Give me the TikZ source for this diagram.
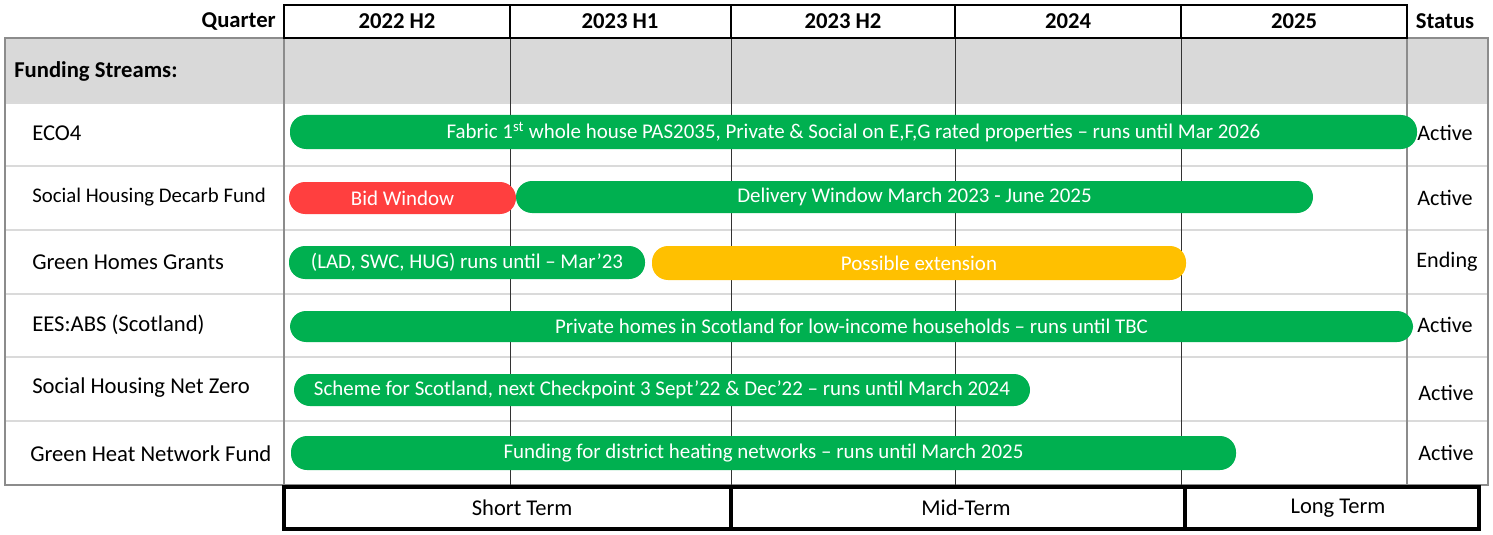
\documentclass[tikz,border=0pt]{standalone}
\usepackage{fontspec}
\setmainfont{Carlito}
\usepackage{tikz}
\usetikzlibrary{positioning}

\definecolor{barGreen}{HTML}{00B050}
\definecolor{barRed}{HTML}{FF3F3F}
\definecolor{barAmber}{HTML}{FFC000}
\definecolor{bandGray}{HTML}{D9D9D9}
\definecolor{ruleGray}{HTML}{DADADA}
\definecolor{frameGray}{HTML}{8C8C8C}

\begin{document}
\begin{tikzpicture}[x=0.75pt,y=-0.75pt,
  hdr/.style={font=\bfseries\fontsize{17}{20}\selectfont,text=black,inner sep=0pt},
  rowlbl/.style={anchor=west,font=\fontsize{17}{20}\selectfont,text=black,inner sep=0pt},
  status/.style={font=\fontsize{16.6}{20}\selectfont,text=black,inner sep=0pt},
  bar/.style={rectangle,rounded corners=12pt,text=white,inner sep=0pt,font=\fontsize{15.7}{18}\selectfont},
  termbox/.style={rectangle,draw=black,line width=2.4pt,minimum height=42*0.75pt,inner sep=0pt,font=\fontsize{16.9}{20}\selectfont}]
\useasboundingbox (0,0) rectangle (1493,535);
% table body
\fill[bandGray] (5,38) rectangle (1488,103);
\draw[ruleGray,line width=1.5pt] (5,103) -- (1488,103);
\draw[ruleGray,line width=1.5pt] (5,166) -- (1488,166);
\draw[ruleGray,line width=1.5pt] (5,230) -- (1488,230);
\draw[ruleGray,line width=1.5pt] (5,294) -- (1488,294);
\draw[ruleGray,line width=1.5pt] (5,357) -- (1488,357);
\draw[ruleGray,line width=1.5pt] (5,421) -- (1488,421);
\draw[frameGray,line width=1.2pt] (5,38) -- (1488,38) -- (1488,485) -- (5,485) -- cycle;
\draw[frameGray,line width=1.2pt] (284,38) -- (284,485);
\draw[frameGray,line width=1.2pt] (1407,38) -- (1407,485);
\draw[black!80,line width=0.7pt] (510,38) -- (510,487);
\draw[black!80,line width=0.7pt] (731,38) -- (731,487);
\draw[black!80,line width=0.7pt] (955,38) -- (955,487);
\draw[black!80,line width=0.7pt] (1181,38) -- (1181,487);
% header
\draw[black,line width=1.5pt] (284,5) rectangle (1407,38);
\draw[black,line width=1.5pt] (510,5) -- (510,38);
\draw[black,line width=1.5pt] (731,5) -- (731,38);
\draw[black,line width=1.5pt] (955,5) -- (955,38);
\draw[black,line width=1.5pt] (1181,5) -- (1181,38);
\node[hdr,anchor=east] (quarter) at (276,21) {Quarter};
\node[hdr] (h22b) at (397,21) {2022 H2};
\node[hdr] (h23a) at (620,21) {2023 H1};
\node[hdr] (h23b) at (843,21) {2023 H2};
\node[hdr] (y24) at (1068,21) {2024};
\node[hdr] (y25) at (1294,21) {2025};
\node[hdr] (statushdr) at (1445,21) {Status};
\node[hdr,anchor=west] (streams) at (14,71) {Funding Streams:};
% rows
\node[rowlbl] (eco) at (32,133) {ECO4};
\node[rowlbl,font=\fontsize{15.6}{18}\selectfont] (shdf) at (32,197) {Social Housing Decarb Fund};
\node[rowlbl] (ghg) at (32,262) {Green Homes Grants};
\node[rowlbl] (ees) at (32,325) {EES:ABS (Scotland)};
\node[rowlbl] (shnz) at (32,388) {Social Housing Net Zero};
\node[rowlbl] (ghnf) at (30,454) {Green Heat Network Fund};
% bars
\node[bar,fill=barGreen,minimum width=1127*0.75pt,minimum height=34*0.75pt] (ecobar) at (853.5,132) {Fabric 1\textsuperscript{st} whole house PAS2035, Private \& Social on E,F,G rated properties -- runs until Mar 2026};
\node[bar,fill=barRed,minimum width=227*0.75pt,minimum height=32*0.75pt] (bidbar) at (402.5,198) {Bid Window};
\node[bar,fill=barGreen,minimum width=797*0.75pt,minimum height=32*0.75pt] (delbar) at (914.5,197) {Delivery Window March 2023 - June 2025};
\node[bar,fill=barGreen,minimum width=356*0.75pt,minimum height=33*0.75pt] (ladbar) at (467,262.5) {(LAD, SWC, HUG) runs until -- Mar’23};
\node[bar,fill=barAmber,minimum width=534*0.75pt,minimum height=34*0.75pt] (extbar) at (919,263) {Possible extension};
\node[bar,fill=barGreen,minimum width=1123*0.75pt,minimum height=31*0.75pt] (eesbar) at (851.5,326.5) {Private homes in Scotland for low-income households -- runs until TBC};
\node[bar,fill=barGreen,minimum width=736*0.75pt,minimum height=32*0.75pt] (shnzbar) at (662,390) {Scheme for Scotland, next Checkpoint 3 Sept’22 \& Dec’22 -- runs until March 2024};
\node[bar,fill=barGreen,minimum width=945*0.75pt,minimum height=34*0.75pt] (ghnfbar) at (763.5,453) {Funding for district heating networks -- runs until March 2025};
% status
\node[status] (st1) at (1445,133) {Active};
\node[status] (st2) at (1445,198) {Active};
\node[status] (st3) at (1447,262) {Ending};
\node[status] (st4) at (1445,325) {Active};
\node[status] (st5) at (1446,393) {Active};
\node[status] (st6) at (1446,453) {Active};
% terms
\node[termbox,minimum width=447*0.75pt] (short) at (507.5,508) {\hspace*{22pt}Short Term};
\node[termbox,minimum width=454*0.75pt] (mid) at (958,508) {\hspace*{12pt}Mid-Term};
\node[termbox,minimum width=294*0.75pt] (long) at (1332,508) {\hspace*{9pt}Long Term};
\end{tikzpicture}
\end{document}
